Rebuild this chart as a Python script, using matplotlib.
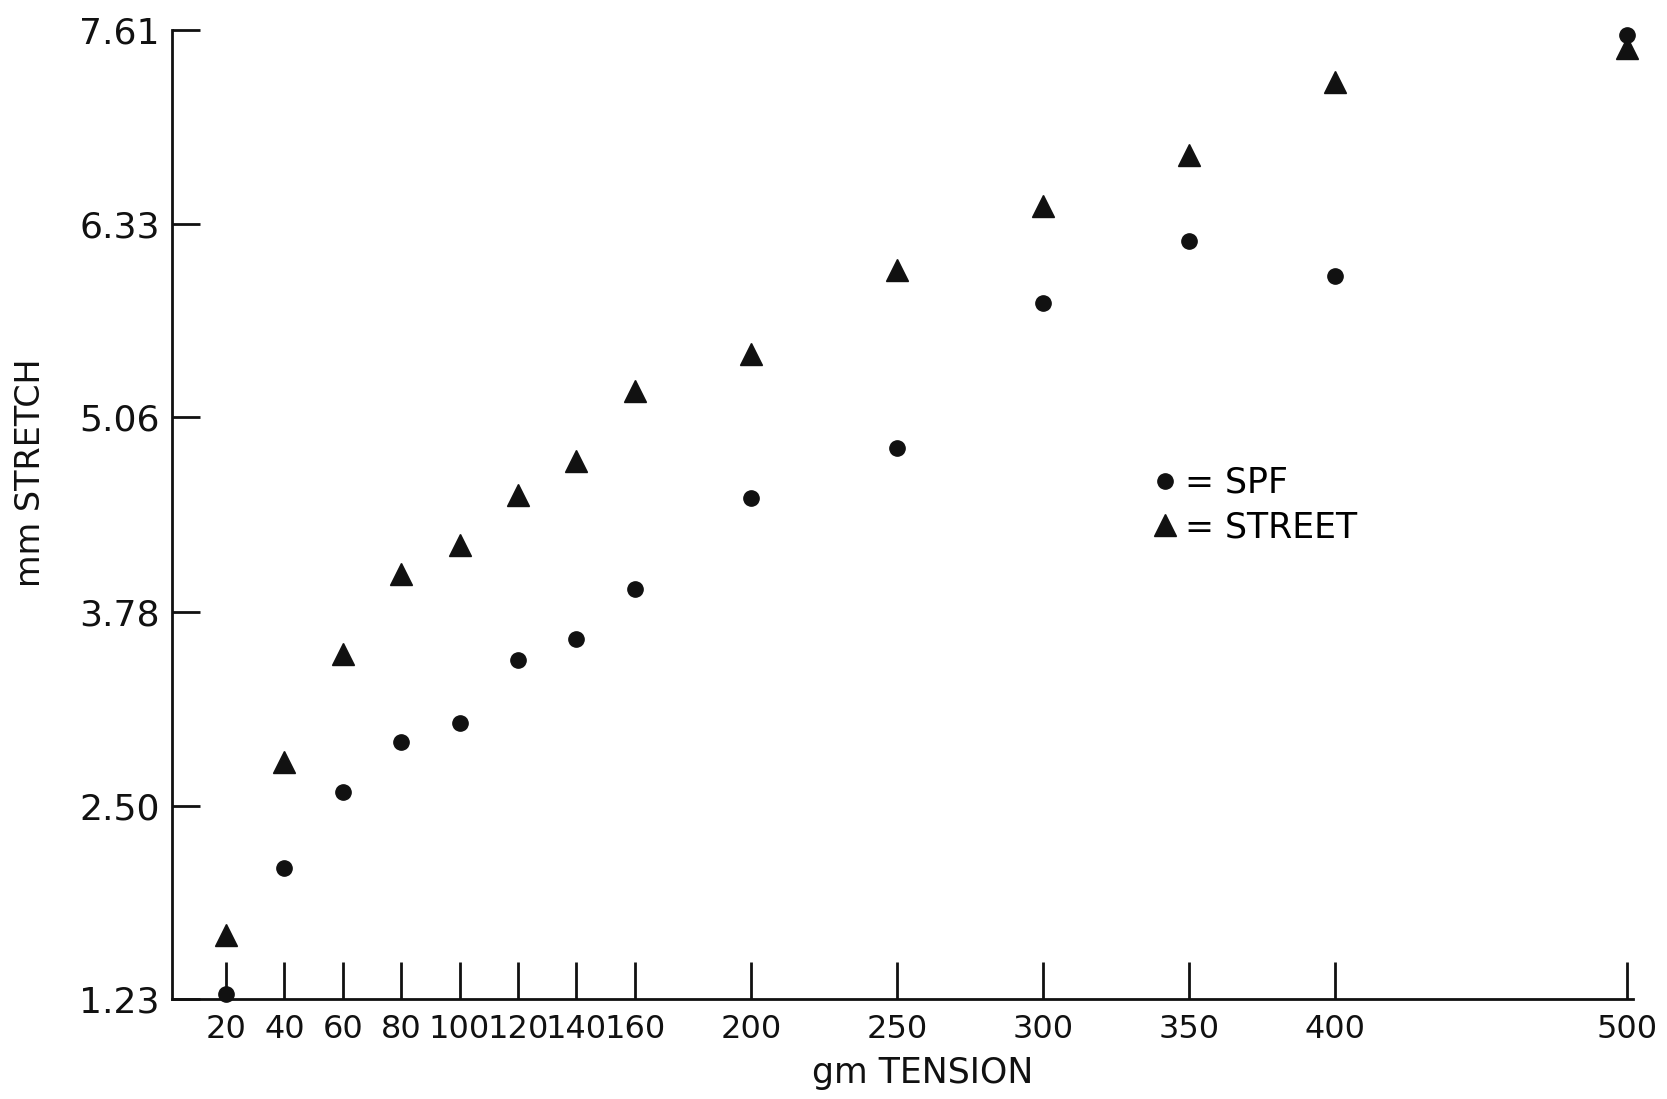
import matplotlib
matplotlib.use('Agg')
import matplotlib.pyplot as plt
from matplotlib.lines import Line2D

plt.rcParams['font.family'] = ['DejaVu Sans']

# tension (gm) and stretch (mm)
tension = [20, 40, 60, 80, 100, 120, 140, 160, 200, 250, 300, 350, 400, 500]
spf = [1.26, 2.09, 2.59, 2.92, 3.05, 3.46, 3.60, 3.93, 4.53, 4.86, 5.81, 6.22, 5.99, 7.58]
street = [1.65, 2.79, 3.50, 4.03, 4.22, 4.55, 4.77, 5.23, 5.48, 6.03, 6.45, 6.79, 7.27, 7.49]

x_ticks = tension
y_ticks = [1.23, 2.50, 3.78, 5.06, 6.33, 7.61]
y_tick_labels = ['1.23', '2.50', '3.78', '5.06', '6.33', '7.61']

ink = '#111111'

fig = plt.figure(figsize=(16.67, 10.99), dpi=100)
ax = fig.add_axes([0.1032, 0.0910, 0.8764, 0.8817])

ax.plot(tension, spf, 'o', color=ink, ms=11, clip_on=False)
ax.plot(tension, street, '^', color=ink, ms=16, clip_on=False)

ax.set_xlim(1.5, 502)
ax.set_ylim(1.23, 7.61)

for s in ['top', 'right']:
    ax.spines[s].set_visible(False)
for s in ['left', 'bottom']:
    ax.spines[s].set_linewidth(2)
    ax.spines[s].set_color(ink)

ax.set_xticks(x_ticks)
ax.set_xticklabels([str(t) for t in x_ticks])
ax.set_yticks(y_ticks)
ax.set_yticklabels(y_tick_labels)
ax.tick_params(axis='x', direction='in', length=27, width=2, pad=11,
               labelsize=23, colors=ink)
ax.tick_params(axis='y', direction='in', length=20, width=2, pad=9,
               labelsize=26, colors=ink)

ax.set_xlabel('gm TENSION', fontsize=25, color=ink)
ax.xaxis.set_label_coords(0.514, -0.059)
ax.set_ylabel('mm STRETCH', fontsize=24, color=ink)
ax.yaxis.set_label_coords(-0.0856, 0.543)

handles = [Line2D([], [], marker='o', ls='none', color=ink, ms=11),
           Line2D([], [], marker='^', ls='none', color=ink, ms=16)]
ax.legend(handles, ['= SPF', '= STREET'], loc='upper left',
          bbox_to_anchor=(1155 / 1667, 1 - 466 / 1099),
          bbox_transform=fig.transFigure, frameon=False, fontsize=25,
          handlelength=0.6, handletextpad=0.25, labelspacing=0.3,
          borderpad=0, borderaxespad=0)

fig.savefig('out.png', dpi=100)
